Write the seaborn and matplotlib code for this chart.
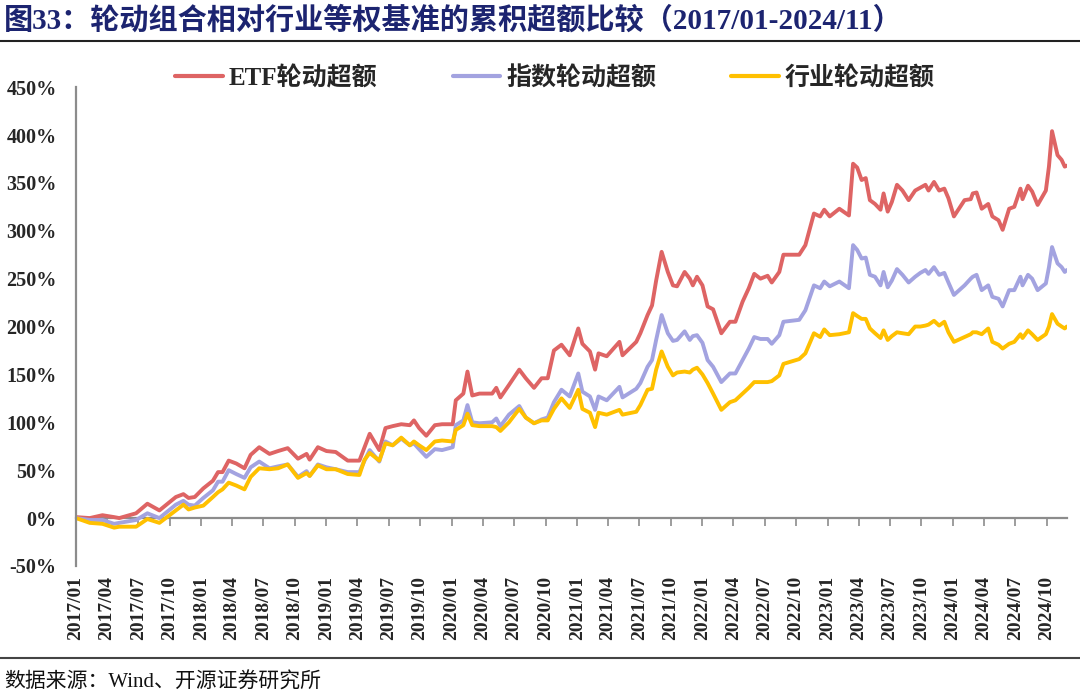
import numpy as np
import pandas as pd
import matplotlib
matplotlib.use('Agg')
import matplotlib.pyplot as plt
import matplotlib.dates as mdates
from matplotlib.ticker import FuncFormatter
import seaborn as sns

# Data (cumulative excess, %)
dates = [
    '2017-01-01', '2017-02-10', '2017-03-19', '2017-04-22', '2017-05-07', '2017-06-25', '2017-07-28',
    '2017-09-01', '2017-10-19', '2017-11-10', '2017-11-25', '2017-12-13', '2018-01-07', '2018-02-04',
    '2018-02-19', '2018-03-04', '2018-03-22', '2018-04-13', '2018-05-07', '2018-05-25', '2018-06-19',
    '2018-07-19', '2018-08-13', '2018-09-10', '2018-10-10', '2018-11-04', '2018-11-13', '2018-12-07',
    '2019-01-01', '2019-01-28', '2019-03-04', '2019-04-07', '2019-04-22', '2019-05-07', '2019-06-04',
    '2019-06-22', '2019-07-13', '2019-08-07', '2019-09-01', '2019-09-13', '2019-09-28', '2019-10-19',
    '2019-11-13', '2019-12-04', '2020-01-04', '2020-01-13', '2020-02-04', '2020-02-16', '2020-03-01',
    '2020-03-22', '2020-04-28', '2020-05-10', '2020-05-22', '2020-06-16', '2020-07-16', '2020-08-04',
    '2020-08-28', '2020-09-19', '2020-10-07', '2020-10-25', '2020-11-16', '2020-12-10', '2021-01-04',
    '2021-01-16', '2021-02-07', '2021-02-22', '2021-03-04', '2021-03-28', '2021-05-04', '2021-05-13',
    '2021-06-22', '2021-07-04', '2021-07-25', '2021-08-07', '2021-08-19', '2021-09-04', '2021-09-22',
    '2021-10-07', '2021-10-19', '2021-11-10', '2021-11-25', '2021-12-04', '2021-12-16', '2022-01-01',
    '2022-01-16', '2022-02-01', '2022-02-25', '2022-03-22', '2022-04-07', '2022-04-28', '2022-05-16',
    '2022-06-01', '2022-06-19', '2022-07-10', '2022-07-22', '2022-08-13', '2022-08-25', '2022-10-10',
    '2022-10-28', '2022-11-22', '2022-12-10', '2022-12-22', '2023-01-07', '2023-02-04', '2023-03-04',
    '2023-03-16', '2023-03-28', '2023-04-10', '2023-04-22', '2023-05-04', '2023-05-19', '2023-06-04',
    '2023-06-13', '2023-06-25', '2023-07-07', '2023-07-22', '2023-08-07', '2023-08-25', '2023-09-13',
    '2023-09-28', '2023-10-13', '2023-10-22', '2023-11-07', '2023-11-22', '2023-12-07', '2023-12-19',
    '2024-01-04', '2024-02-04', '2024-02-22', '2024-02-28', '2024-03-10', '2024-03-25', '2024-04-13',
    '2024-04-25', '2024-05-13', '2024-05-25', '2024-06-13', '2024-06-28', '2024-07-16', '2024-07-22',
    '2024-08-07', '2024-08-19', '2024-09-04', '2024-09-28', '2024-10-07', '2024-10-16', '2024-11-01',
    '2024-11-13', '2024-11-22', '2024-11-28',
]

etf_excess = [
    1, 0, 3, 1, 0, 5, 15, 8, 22, 25, 21, 22, 31, 39, 48, 48, 60, 57, 52, 66, 74,
    67, 70, 73, 62, 67, 61, 74, 70, 69, 60, 60, 74, 88, 71, 94, 96, 98, 97, 102,
    94, 86, 97, 98, 98, 123, 130, 153, 128, 130, 130, 136, 126, 139, 155, 146,
    136, 146, 146, 175, 181, 170, 198, 182, 174, 155, 172, 169, 184, 170, 184,
    193, 212, 222, 248, 278, 257, 243, 242, 257, 250, 243, 252, 243, 221, 218,
    193, 205, 205, 226, 240, 255, 250, 253, 246, 257, 275, 275, 285, 318, 315,
    322, 315, 323, 316, 370, 366, 353, 355, 332, 328, 322, 339, 320, 330, 348,
    342, 332, 342, 345, 348, 342, 351, 342, 344, 334, 315, 332, 333, 339, 340,
    323, 328, 315, 311, 301, 323, 325, 344, 333, 347, 341, 327, 342, 367, 404,
    379, 374, 367, 368,
]

index_excess = [
    0, -2, -2, -6, -5, -2, 5, 0, 14, 18, 14, 13, 21, 29, 38, 38, 50, 46, 42, 53, 59,
    52, 54, 56, 43, 49, 44, 56, 53, 51, 48, 48, 60, 71, 59, 80, 76, 83, 76, 78,
    72, 64, 72, 71, 74, 97, 102, 118, 100, 99, 100, 104, 96, 108, 117, 105,
    99, 103, 105, 121, 134, 127, 151, 132, 127, 113, 127, 123, 137, 126, 135,
    141, 158, 165, 186, 212, 193, 185, 186, 195, 186, 190, 191, 183, 165, 158,
    142, 151, 151, 165, 177, 189, 187, 187, 182, 191, 205, 207, 217, 243, 240,
    247, 242, 247, 240, 285, 280, 271, 272, 254, 252, 243, 257, 241, 248, 260,
    254, 246, 252, 256, 259, 255, 262, 254, 256, 246, 233, 243, 250, 252, 254,
    238, 243, 231, 229, 221, 238, 238, 252, 243, 254, 250, 238, 245, 262, 283,
    266, 262, 257, 259,
]

industry_excess = [
    0, -5, -6, -10, -9, -9, -1, -5, 8, 14, 9, 11, 13, 22, 27, 30, 37, 34, 30, 43, 52,
    51, 52, 56, 42, 47, 44, 55, 51, 51, 46, 45, 61, 68, 60, 78, 76, 84, 76, 80,
    76, 71, 80, 81, 80, 92, 97, 109, 97, 96, 96, 95, 91, 100, 114, 105,
    99, 102, 102, 114, 125, 115, 134, 114, 110, 95, 110, 108, 113, 108, 111,
    118, 134, 135, 155, 174, 158, 149, 152, 153, 152, 155, 157, 150, 141, 130,
    113, 121, 123, 130, 136, 142, 142, 142, 143, 149, 161, 166, 172, 193, 189,
    197, 191, 192, 194, 214, 211, 208, 208, 198, 193, 188, 196, 186, 190, 194,
    193, 192, 200, 200, 201, 202, 206, 201, 205, 194, 184, 189, 192, 194, 194,
    192, 198, 184, 181, 177, 182, 184, 192, 188, 196, 192, 186, 192, 200, 213,
    203, 200, 198, 200,
]

series_names = ['ETF轮动超额', '指数轮动超额', '行业轮动超额']
series_colors = ['#DE6464', '#A3A3E0', '#FFC000']
y_ticks = list(range(-50, 451, 50))
tick_dates = pd.date_range('2017-01-01', '2024-10-01', freq='3MS')

df = pd.DataFrame({
    'date': pd.to_datetime(dates),
    series_names[0]: etf_excess,
    series_names[1]: index_excess,
    series_names[2]: industry_excess,
})
long_df = df.melt(id_vars='date', var_name='series', value_name='excess')

sns.set_style('white')
plt.rcParams['font.family'] = ['Liberation Serif', 'Noto Sans CJK SC']
plt.rcParams['axes.unicode_minus'] = False

fig = plt.figure(figsize=(10.8, 6.97), dpi=100)
ax = fig.add_axes([0.0704, 0.188, 0.918, 0.687])

sns.lineplot(data=long_df, x='date', y='excess', hue='series',
             hue_order=series_names, palette=series_colors,
             linewidth=2.8, ax=ax, legend=False)

ax.set_xlim(pd.Timestamp('2017-01-01'), pd.Timestamp('2024-11-30'))
ax.set_ylim(-50, 450)
ax.set_yticks(y_ticks)
ax.yaxis.set_major_formatter(FuncFormatter(lambda v, p: '%d%%' % v))
ax.set_xlabel('')
ax.set_ylabel('')

grey = '#8C8C8C'
for s in ['top', 'right', 'bottom']:
    ax.spines[s].set_visible(False)
ax.spines['left'].set_color(grey)
ax.spines['left'].set_linewidth(1.6)
ax.tick_params(axis='y', direction='in', length=5, width=1.2, color=grey,
               pad=14, labelsize=14.5)
for lab in ax.get_yticklabels():
    lab.set_fontweight('bold')

# bottom labels (no marks) and an axis line with ticks at 0%
ax.set_xticks(tick_dates)
ax.set_xticklabels([d.strftime('%Y/%m') for d in tick_dates], rotation=90,
                   fontsize=14, fontweight='bold')
ax.tick_params(axis='x', length=0, pad=7)

secax = ax.secondary_xaxis(0.1)
secax.set_xticks(tick_dates)
secax.set_xticklabels([])
secax.spines['bottom'].set_color(grey)
secax.spines['bottom'].set_linewidth(1.6)
secax.tick_params(axis='x', direction='out', length=6, width=1.2, color=grey)

handles = [plt.Line2D([], [], color=c, lw=3) for c in series_colors]
leg = fig.legend(handles, series_names, loc='center', bbox_to_anchor=(0.514, 0.888),
                 ncol=3, frameon=False, handlelength=1.9, handletextpad=0.25,
                 columnspacing=3.0, prop={'size': 18, 'weight': 'bold'})

fig.text(0.004, 0.971, '图33：轮动组合相对行业等权基准的累积超额比较（2017/01-2024/11）',
         fontsize=21, fontweight='bold', color='#1C2470', va='center', ha='left')
fig.add_artist(plt.Line2D([0, 1], [1 - 41 / 697, 1 - 41 / 697], color='#222222', lw=1.5))
fig.add_artist(plt.Line2D([0, 1], [1 - 658 / 697, 1 - 658 / 697], color='#444444', lw=1.5))
fig.text(0.004, 1 - 683 / 697, '数据来源：Wind、开源证券研究所', fontsize=15,
         color='#111111', va='center', ha='left')

fig.savefig('out.png', dpi=100)
